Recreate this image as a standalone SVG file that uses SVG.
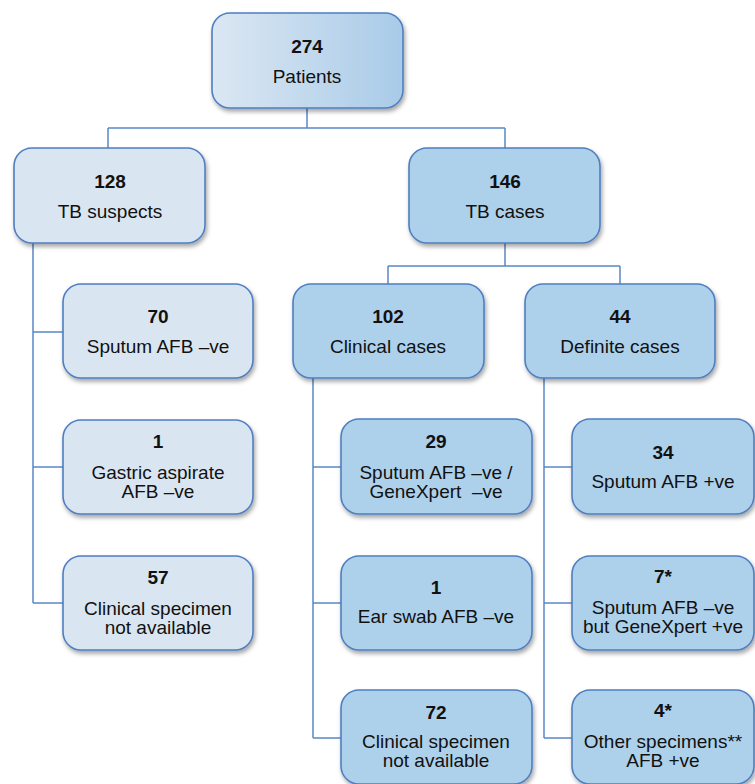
<svg xmlns="http://www.w3.org/2000/svg" width="755" height="784" viewBox="0 0 755 784">
<style>
.box{stroke:#4f7fc0;stroke-width:1.6}
.lt{fill:#d9e6f2}
.md{fill:#add0eb}
.c{fill:none;stroke:#5a88c6;stroke-width:1.5}
text{font-family:"Liberation Sans",Arial,sans-serif;font-size:19px;fill:#111;text-anchor:middle}
.n{font-weight:bold}
</style>
<defs>
<linearGradient id="g" x1="0" y1="0" x2="1" y2="0">
<stop offset="0" stop-color="#dbe7f3"/>
<stop offset="1" stop-color="#a9cbe8"/>
</linearGradient>
<filter id="sh" x="-10%" y="-10%" width="125%" height="130%">
<feDropShadow dx="1.5" dy="3" stdDeviation="2" flood-color="#000" flood-opacity="0.35"/>
</filter>
</defs>
<g id="connectors">
<path class="c" d="M307 108V128M108 128H505M108 128V148M505 128V148"/>
<path class="c" d="M33 243V603M33 332H63M33 467H63M33 603H63"/>
<path class="c" d="M505 243V266M388 266H620M388 266V284M620 266V284"/>
<path class="c" d="M313 378V738M313 467H341M313 603H341M313 738H341"/>
<path class="c" d="M544 378V738M544 467H572M544 603H572M544 738H572"/>
</g>
<g id="n274"><rect class="box" x="212" y="13" width="191" height="95" rx="18" fill="url(#g)" filter="url(#sh)"/><text class="n" x="307" y="53">274</text><text x="307" y="83">Patients</text></g>
<g id="n128"><rect class="box lt" x="14" y="148" width="191" height="95" rx="18" filter="url(#sh)"/><text class="n" x="110" y="188">128</text><text x="110" y="218">TB suspects</text></g>
<g id="n146"><rect class="box md" x="409" y="148" width="191" height="95" rx="18" filter="url(#sh)"/><text class="n" x="505" y="188">146</text><text x="505" y="218">TB cases</text></g>
<g id="n70"><rect class="box lt" x="63" y="284" width="190" height="94" rx="18" filter="url(#sh)"/><text class="n" x="158" y="323">70</text><text x="158" y="353">Sputum AFB –ve</text></g>
<g id="n1g"><rect class="box lt" x="63" y="420" width="190" height="94" rx="18" filter="url(#sh)"/><text class="n" x="158" y="448">1</text><text x="158" y="479">Gastric aspirate</text><text x="158" y="498">AFB –ve</text></g>
<g id="n57"><rect class="box lt" x="63" y="556" width="190" height="94" rx="18" filter="url(#sh)"/><text class="n" x="158" y="584">57</text><text x="158" y="615">Clinical specimen</text><text x="158" y="634">not available</text></g>
<g id="n102"><rect class="box md" x="293" y="284" width="191" height="94" rx="18" filter="url(#sh)"/><text class="n" x="388" y="323">102</text><text x="388" y="353">Clinical cases</text></g>
<g id="n44"><rect class="box md" x="525" y="284" width="190" height="94" rx="18" filter="url(#sh)"/><text class="n" x="620" y="323">44</text><text x="620" y="353">Definite cases</text></g>
<g id="n29"><rect class="box md" x="341" y="419" width="191" height="95" rx="18" filter="url(#sh)"/><text class="n" x="436" y="448">29</text><text x="436" y="479">Sputum AFB –ve /</text><text x="436" y="498" style="white-space:pre">GeneXpert  –ve</text></g>
<g id="n1e"><rect class="box md" x="341" y="556" width="191" height="94" rx="18" filter="url(#sh)"/><text class="n" x="436" y="594">1</text><text x="436" y="623">Ear swab AFB –ve</text></g>
<g id="n72"><rect class="box md" x="341" y="690" width="191" height="94" rx="18" filter="url(#sh)"/><text class="n" x="436" y="719">72</text><text x="436" y="748">Clinical specimen</text><text x="436" y="767">not available</text></g>
<g id="n34"><rect class="box md" x="572" y="419" width="182" height="95" rx="18" filter="url(#sh)"/><text class="n" x="663" y="459">34</text><text x="663" y="488">Sputum AFB +ve</text></g>
<g id="n7"><rect class="box md" x="572" y="556" width="182" height="94" rx="18" filter="url(#sh)"/><text class="n" x="663" y="583">7*</text><text x="663" y="614">Sputum AFB –ve</text><text x="663" y="633">but GeneXpert +ve</text></g>
<g id="n4"><rect class="box md" x="572" y="690" width="182" height="94" rx="18" filter="url(#sh)"/><text class="n" x="663" y="717">4*</text><text x="663" y="748">Other specimens**</text><text x="663" y="767">AFB +ve</text></g>
</svg>
